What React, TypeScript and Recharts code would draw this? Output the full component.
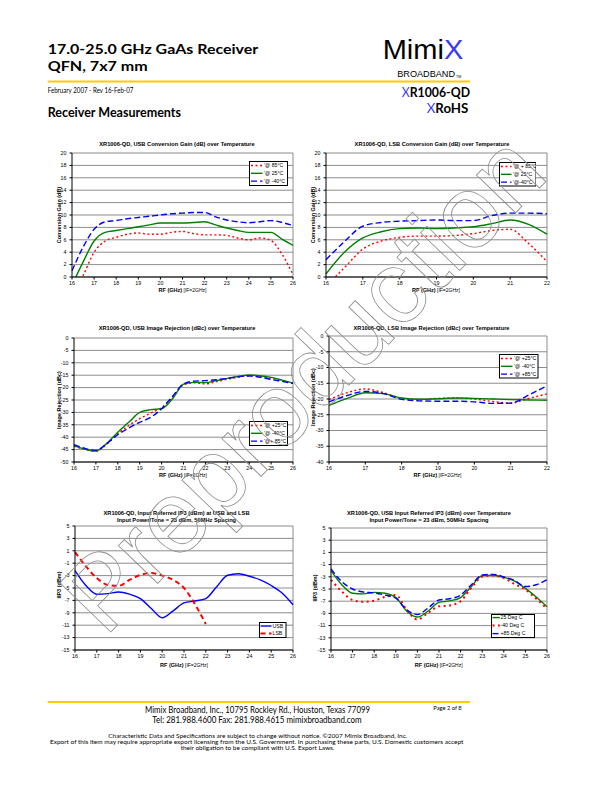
import React from "react";
import { LineChart, Line, XAxis, YAxis, CartesianGrid, Legend, ReferenceLine } from "recharts";

const chartFont = "'Liberation Sans', Arial, sans-serif";
const pageFont = "Lato, 'Open Sans', sans-serif";

// frequency points (GHz)
const freqWide = [16, 16.5, 17, 17.5, 18, 18.5, 19, 19.5, 20, 20.5, 21, 21.5, 22, 22.5, 23, 23.5, 24, 24.5, 25, 25.5, 26];
const freqNarrow = [16, 16.5, 17, 17.5, 18, 18.5, 19, 19.5, 20, 20.5, 21, 21.5, 22];

const ticksWide = [16, 17, 18, 19, 20, 21, 22, 23, 24, 25, 26];
const ticksNarrow = [16, 17, 18, 19, 20, 21, 22];
const gainTicks = [0, 2, 4, 6, 8, 10, 12, 14, 16, 18, 20];
const usbRejTicks = [-50, -45, -40, -35, -30, -25, -20, -15, -10, -5, 0];
const lsbRejTicks = [-40, -35, -30, -25, -20, -15, -10, -5, 0];
const ip3Ticks = [-15, -13, -11, -9, -7, -5, -3, -1, 1, 3, 5];

// USB conversion gain (dB)
const usbGain85 = [-3.0, 0.2, 4.0, 5.8, 6.4, 6.9, 7.1, 6.9, 6.9, 7.2, 7.35, 7.0, 6.8, 6.8, 6.7, 6.3, 6.0, 6.3, 5.9, 3.7, 0.4];
const usbGain25 = [-1.3, 2.4, 5.8, 7.2, 7.5, 7.8, 8.1, 8.4, 8.7, 8.7, 8.7, 8.8, 8.9, 8.4, 7.9, 7.5, 7.2, 7.2, 7.2, 6.1, 5.1];
const usbGainM40 = [1.0, 4.8, 7.7, 8.9, 9.1, 9.4, 9.6, 9.8, 10.0, 10.2, 10.3, 10.4, 10.4, 9.7, 9.2, 8.9, 8.75, 8.9, 9.1, 8.8, 8.3];

// LSB conversion gain (dB)
const lsbGain85 = [-1.5, 1.5, 4.5, 5.8, 6.4, 6.6, 6.6, 6.7, 7.0, 7.5, 7.7, 5.4, 2.5];
const lsbGain25 = [0.5, 4.0, 6.3, 7.3, 7.8, 7.9, 7.8, 7.9, 8.1, 8.6, 9.2, 8.5, 6.9];
const lsbGainM40 = [2.8, 5.7, 8.2, 8.8, 9.0, 9.1, 9.2, 9.1, 9.1, 9.9, 10.3, 10.3, 10.2];

// USB image rejection (dBc)
const usbRej25 = [-43.6, -44.9, -45.6, -42.8, -38.6, -35.3, -32.5, -30.3, -28.0, -24.0, -18.9, -18.1, -18.5, -17.6, -16.6, -15.8, -15.2, -15.5, -16.2, -17.2, -18.2];
const usbRejM40 = [-43.4, -44.8, -45.6, -42.5, -38.0, -34.0, -30.0, -28.9, -28.5, -24.5, -18.6, -17.9, -18.0, -17.2, -16.3, -15.5, -14.9, -15.2, -15.9, -17.0, -18.2];
const usbRej85 = [-43.0, -44.5, -45.3, -42.5, -39.0, -36.3, -34.0, -32.0, -28.5, -23.5, -18.5, -17.4, -17.2, -16.8, -16.3, -15.6, -15.3, -15.8, -16.7, -17.5, -18.3];

// LSB image rejection (dBc)
const lsbRej25 = [-20.2, -18.0, -16.8, -18.0, -19.8, -20.2, -19.8, -19.7, -20.0, -20.8, -21.3, -19.8, -18.4];
const lsbRejM40 = [-22.0, -19.8, -18.0, -18.3, -19.7, -20.1, -19.9, -19.7, -19.8, -20.0, -20.2, -20.3, -20.4];
const lsbRej85 = [-20.9, -18.9, -17.6, -18.3, -20.1, -20.6, -20.7, -20.7, -20.9, -21.4, -21.3, -18.7, -15.8];

// input IP3 (dBm)
const ip3Usb = [-2.2, -4.6, -6.0, -5.9, -5.65, -6.0, -6.7, -8.3, -9.8, -8.7, -7.4, -7.1, -6.7, -4.8, -2.95, -2.7, -3.1, -3.7, -4.6, -5.8, -7.7];
const ip3Lsb = [0.8, -1.5, -3.4, -4.5, -4.65, -3.7, -2.9, -2.6, -3.0, -3.7, -5.0, -7.6, -10.8, null, null, null, null, null, null, null, null];
const ip3T25 = [-2.0, -4.3, -5.7, -5.8, -5.55, -5.7, -6.4, -8.6, -9.6, -8.6, -7.2, -6.95, -6.4, -4.6, -2.8, -2.75, -3.1, -3.7, -4.9, -6.3, -7.9];
const ip3TM40 = [-3.5, -5.4, -6.8, -7.1, -6.9, -6.3, -6.0, -8.4, -10.0, -8.9, -7.85, -7.7, -7.0, -4.8, -3.0, -2.8, -3.2, -4.2, -5.1, -6.6, -8.2];
const ip3T85 = [-1.7, -3.8, -5.0, -5.5, -5.65, -6.0, -6.5, -8.4, -9.2, -8.1, -6.8, -6.6, -6.0, -4.3, -2.7, -2.6, -3.0, -3.6, -4.6, -4.3, -3.5];

const RED = "#FF0000";
const GREEN = "#008000";
const BLUE = "#0000FF";
const DOT = "2 2.5";
const DASH = "6 3";

type Series = { key: string; name: string; color: string; dash?: string; width: number; values: (number | null)[] };
type LegendSpec = { x: number; y: number; w: number; h: number; row0: number; step: number; s0: number; s1: number; tx: number };
type Panel = {
  box: [number, number, number, number];
  freq: number[];
  xTicks: number[];
  yTicks: number[];
  series: Series[];
  legend: LegendSpec;
};

const panels: Panel[] = [
  {
    box: [72, 152.5, 221, 124],
    freq: freqWide, xTicks: ticksWide, yTicks: gainTicks,
    series: [
      { key: "a", name: "'@ 85°C", color: RED, dash: DOT, width: 1.4, values: usbGain85 },
      { key: "b", name: "'@ 25°C", color: GREEN, width: 1.4, values: usbGain25 },
      { key: "c", name: "'@ -40°C", color: BLUE, dash: DASH, width: 1.4, values: usbGainM40 },
    ],
    legend: { x: 249, y: 161, w: 39, h: 25, row0: 4.5, step: 7.8, s0: 2, s1: 13.5, tx: 15 },
  },
  {
    box: [326, 152.5, 221, 124],
    freq: freqNarrow, xTicks: ticksNarrow, yTicks: gainTicks,
    series: [
      { key: "a", name: "'@ + 85°C", color: RED, dash: DOT, width: 1.4, values: lsbGain85 },
      { key: "b", name: "'@ 25°C", color: GREEN, width: 1.4, values: lsbGain25 },
      { key: "c", name: "'@-40°C", color: BLUE, dash: DASH, width: 1.4, values: lsbGainM40 },
    ],
    legend: { x: 498.5, y: 162, w: 37.5, h: 24.5, row0: 4.5, step: 7.8, s0: 2, s1: 12.5, tx: 14 },
  },
  {
    box: [74, 337.5, 219, 124],
    freq: freqWide, xTicks: ticksWide, yTicks: usbRejTicks,
    series: [
      { key: "a", name: "'@ +25°C", color: RED, dash: DOT, width: 1.4, values: usbRej25 },
      { key: "b", name: "'@ -40°C", color: GREEN, width: 1.4, values: usbRejM40 },
      { key: "c", name: "'@+ 85°C", color: BLUE, dash: DASH, width: 1.4, values: usbRej85 },
    ],
    legend: { x: 249.3, y: 420.7, w: 39, h: 25, row0: 4.5, step: 7.8, s0: 2, s1: 13.5, tx: 15 },
  },
  {
    box: [329, 335.5, 218, 126],
    freq: freqNarrow, xTicks: ticksNarrow, yTicks: lsbRejTicks,
    series: [
      { key: "a", name: "'@ +25°C", color: RED, dash: DOT, width: 1.4, values: lsbRej25 },
      { key: "b", name: "'@ -40°C", color: GREEN, width: 1.4, values: lsbRejM40 },
      { key: "c", name: "'@ +85°C", color: BLUE, dash: DASH, width: 1.4, values: lsbRej85 },
    ],
    legend: { x: 499.3, y: 354, w: 39.5, h: 24.5, row0: 4.5, step: 7.8, s0: 2, s1: 13.5, tx: 15 },
  },
  {
    box: [75, 526, 218, 124],
    freq: freqWide, xTicks: ticksWide, yTicks: ip3Ticks,
    series: [
      { key: "a", name: "USB", color: BLUE, width: 1.4, values: ip3Usb },
      { key: "b", name: "LSB", color: RED, dash: "5 3.5", width: 2, values: ip3Lsb },
    ],
    legend: { x: 259.3, y: 622.3, w: 27.5, h: 16, row0: 4, step: 7.4, s0: 1.5, s1: 12.5, tx: 13.5 },
  },
  {
    box: [331, 528, 216, 122],
    freq: freqWide, xTicks: ticksWide, yTicks: ip3Ticks,
    series: [
      { key: "a", name: "25 Deg C", color: GREEN, width: 1.4, values: ip3T25 },
      { key: "b", name: "-40 Deg C", color: RED, dash: "2 3.5", width: 2, values: ip3TM40 },
      { key: "c", name: "+85 Deg C", color: BLUE, dash: DASH, width: 1.4, values: ip3T85 },
    ],
    legend: { x: 491.3, y: 613.7, w: 44, h: 24, row0: 3.6, step: 8, s0: 1.5, s1: 8.8, tx: 9.5 },
  },
];

const titles = [
  { x: 177, y: 146, lines: ["XR1006-QD, USB Conversion Gain (dB) over Temperature"] },
  { x: 432, y: 146, lines: ["XR1006-QD, LSB Conversion Gain (dB) over Temperature"] },
  { x: 177, y: 329.5, lines: ["XR1006-QD, USB Image Rejection (dBc) over Temperature"] },
  { x: 431.5, y: 329.5, lines: ["XR1006-QD, LSB Image Rejection (dBc) over Temperature"] },
  { x: 176.5, y: 514.5, lines: ["XR1006-QD, Input Referred IP3 (dBm) at USB and LSB", "Input Power/Tone =  23 dBm, 50MHz Spacing"] },
  { x: 429, y: 514.5, lines: ["XR1006-QD, USB Input Referred IP3 (dBm) over Temperature", "Input Power/Tone =  23 dBm, 50MHz Spacing"] },
];

const xLabels = [
  { x: 182.5, y: 291.5 },
  { x: 436, y: 291.5 },
  { x: 183, y: 476.5 },
  { x: 437.5, y: 476.5 },
  { x: 184, y: 666.5 },
  { x: 438.7, y: 666.5 },
];

const yLabels = [
  { x: 61, y: 215, text: "Conversion Gain (dB)" },
  { x: 315, y: 215, text: "Conversion Gain (dB)" },
  { x: 61, y: 400, text: "Image Rejection (dBc)" },
  { x: 315, y: 397, text: "Image Rejection (dBc)" },
  { x: 61, y: 585, text: "IIP3 (dBm)" },
  { x: 316.5, y: 588, text: "IIP3 (dBm)" },
];

function LegendBox({ payload, spec, series }: { payload?: any[]; spec: LegendSpec; series: Series[] }) {
  // keep the series order of the sheet, not the legend's sorted order
  return (
    <svg width={spec.w} height={spec.h} style={{ display: "block" }}>
      <rect x={0.5} y={0.5} width={spec.w - 1} height={spec.h - 1} fill="#fff" stroke="#000" strokeWidth={1} />
      {series.map((s, i) => {
        const item = (payload || []).find((p) => p.dataKey === s.key);
        const y = spec.row0 + i * spec.step;
        return (
          <g key={s.key}>
            <line x1={spec.s0} x2={spec.s1} y1={y} y2={y} stroke={item ? item.color : s.color} strokeWidth={s.width} strokeDasharray={s.dash} />
            <text x={spec.tx} y={y + 1.8} fontSize={5.2} fontFamily={chartFont} fill="#000">
              {item ? item.value : s.name}
            </text>
          </g>
        );
      })}
    </svg>
  );
}

function PlotPanel({ panel }: { panel: Panel }) {
  const [px, py, pw, ph] = panel.box;
  const padL = 32;
  const padT = 6;
  const padR = 8;
  const padB = 14;
  const data = panel.freq.map((f, i) => {
    const row: Record<string, number | null> = { f };
    panel.series.forEach((s) => {
      row[s.key] = s.values[i];
    });
    return row;
  });
  const xMin = panel.xTicks[0];
  const xMax = panel.xTicks[panel.xTicks.length - 1];
  const yMin = panel.yTicks[0];
  const yMax = panel.yTicks[panel.yTicks.length - 1];
  const lg = panel.legend;
  const tickStyle = { fontSize: 5.3, fill: "#000", fontFamily: chartFont };
  return (
    <div style={{ position: "absolute", left: px - padL, top: py - padT }}>
      <LineChart
        width={pw + padL + padR}
        height={ph + padT + padB}
        data={data}
        margin={{ top: padT, right: padR, left: 0, bottom: 0 }}
      >
        <CartesianGrid vertical={false} stroke="#808080" strokeWidth={0.9} />
        <XAxis
          dataKey="f"
          type="number"
          domain={[xMin, xMax]}
          ticks={panel.xTicks}
          interval={0}
          height={padB}
          tickSize={2.5}
          tickMargin={1.5}
          axisLine={{ stroke: "#000", strokeWidth: 1 }}
          tickLine={{ stroke: "#000" }}
          tick={tickStyle}
        />
        <YAxis
          type="number"
          domain={[yMin, yMax]}
          ticks={panel.yTicks}
          interval={0}
          allowDataOverflow
          width={padL}
          tickSize={2.5}
          tickMargin={3}
          axisLine={{ stroke: "#000", strokeWidth: 1 }}
          tickLine={{ stroke: "#000" }}
          tick={tickStyle}
        />
        <ReferenceLine x={xMax} stroke="#808080" strokeWidth={0.9} />
        {panel.series.map((s) => (
          <Line
            key={s.key}
            dataKey={s.key}
            name={s.name}
            type="monotone"
            stroke={s.color}
            strokeWidth={s.width}
            strokeDasharray={s.dash}
            dot={false}
            activeDot={false}
            isAnimationActive={false}
          />
        ))}
        <Legend
          layout="vertical"
          align="center"
          verticalAlign="middle"
          wrapperStyle={{ left: lg.x - (px - padL), top: lg.y - (py - padT), width: lg.w, height: lg.h }}
          content={(p: any) => <LegendBox payload={p.payload} spec={lg} series={panel.series} />}
        />
      </LineChart>
    </div>
  );
}

function PageText() {
  return (
    <svg width={612} height={792} style={{ position: "absolute", left: 0, top: 0, pointerEvents: "none" }}>
      {/* header */}
      <text x={47.7} y={54} fontFamily={pageFont} fontWeight="bold" fontSize={14} textLength={210.6} lengthAdjust="spacingAndGlyphs">
        17.0-25.0 GHz GaAs Receiver
      </text>
      <text x={47.7} y={71} fontFamily={pageFont} fontWeight="bold" fontSize={14} textLength={100} lengthAdjust="spacingAndGlyphs">
        QFN, 7x7 mm
      </text>
      <rect x={47.7} y={80.5} width={422.3} height={2} fill="#FFCC00" />
      <text x={47.7} y={93} fontFamily={pageFont} fontSize={7} textLength={85.6} lengthAdjust="spacingAndGlyphs">
        February 2007 - Rev 16-Feb-07
      </text>
      <text x={47.7} y={116.7} fontFamily={pageFont} fontWeight="bold" fontSize={13} textLength={133.3} lengthAdjust="spacingAndGlyphs">
        Receiver Measurements
      </text>
      <text x={382.7} y={59.3} fontFamily={chartFont} fontSize={27} textLength={80.6} lengthAdjust="spacingAndGlyphs">
        Mimi<tspan fill="#3a3aff">X</tspan>
      </text>
      <text x={397.3} y={77.3} fontFamily={chartFont} fontSize={9.5} textLength={57.7} lengthAdjust="spacingAndGlyphs">
        BROADBAND
      </text>
      <text x={456} y={77.5} fontFamily={chartFont} fontSize={3.5}>
        TM
      </text>
      <text x={401.7} y={97.3} fontFamily={pageFont} fontWeight="bold" fontSize={13} textLength={68.3} lengthAdjust="spacingAndGlyphs">
        <tspan fill="#3a3aff" fontWeight="normal">X</tspan>R1006-QD
      </text>
      <text x={426.7} y={113.3} fontFamily={pageFont} fontWeight="bold" fontSize={13} textLength={41.6} lengthAdjust="spacingAndGlyphs">
        <tspan fill="#3a3aff" fontWeight="normal">X</tspan>RoHS
      </text>

      {/* chart titles and axis titles */}
      {titles.map((t, i) => (
        <text key={"t" + i} x={t.x} y={t.y} textAnchor="middle" fontFamily={chartFont} fontWeight="bold" fontSize={5.7}>
          {t.lines.map((ln, j) => (
            <tspan key={j} x={t.x} dy={j === 0 ? 0 : 7.3}>
              {ln}
            </tspan>
          ))}
        </text>
      ))}
      {xLabels.map((l, i) => (
        <text key={"x" + i} x={l.x} y={l.y} textAnchor="middle" fontFamily={chartFont} fontSize={5.5}>
          <tspan fontWeight="bold">RF (GHz)</tspan>
          <tspan fontSize={5}> [IF=2GHz]</tspan>
        </text>
      ))}
      {yLabels.map((l, i) => (
        <text
          key={"y" + i}
          x={l.x}
          y={l.y}
          textAnchor="middle"
          fontFamily={chartFont}
          fontWeight="bold"
          fontSize={5.5}
          transform={`rotate(-90 ${l.x} ${l.y})`}
        >
          {l.text}
        </text>
      ))}

      {/* footer */}
      <rect x={47.7} y={701} width={422.3} height={2} fill="#FFCC00" />
      <text x={145} y={712.7} fontFamily={pageFont} fontSize={9.5} textLength={225} lengthAdjust="spacingAndGlyphs">
        Mimix Broadband, Inc., 10795 Rockley Rd., Houston, Texas 77099
      </text>
      <text x={152.3} y={723.3} fontFamily={pageFont} fontSize={9.5} textLength={209.4} lengthAdjust="spacingAndGlyphs">
        Tel: 281.988.4600  Fax: 281.988.4615  mimixbroadband.com
      </text>
      <text x={433.3} y={710} fontFamily={pageFont} fontSize={6.5} textLength={28.4} lengthAdjust="spacingAndGlyphs">
        Page 2 of 8
      </text>
      <text x={108.3} y={737.7} fontFamily={pageFont} fontSize={6.2} textLength={299} lengthAdjust="spacingAndGlyphs">
        Characteristic Data and Specifications are subject to change without notice. ©2007 Mimix Broadband, Inc.
      </text>
      <text x={50} y={743.8} fontFamily={pageFont} fontSize={6.2} textLength={413.3} lengthAdjust="spacingAndGlyphs">
        Export of this item may require appropriate export licensing from the U.S. Government. In purchasing these parts, U.S. Domestic customers accept
      </text>
      <text x={180.7} y={749.8} fontFamily={pageFont} fontSize={6.2} textLength={153.7} lengthAdjust="spacingAndGlyphs">
        their obligation to be compliant with U.S. Export Laws.
      </text>

      {/* watermark */}
      <text
        x={0}
        y={0}
        transform="translate(105 638) rotate(-46)"
        fontFamily={chartFont}
        fontSize={103}
        fill="none"
        stroke="#8c8c8c"
        strokeWidth={0.8}
      >
        Preproduction
      </text>
    </svg>
  );
}

export default function App() {
  return (
    <div style={{ position: "absolute", left: 0, top: 0, width: 612, height: 792, background: "#fff", overflow: "hidden" }}>
      {panels.map((p, i) => (
        <PlotPanel key={i} panel={p} />
      ))}
      <PageText />
    </div>
  );
}
